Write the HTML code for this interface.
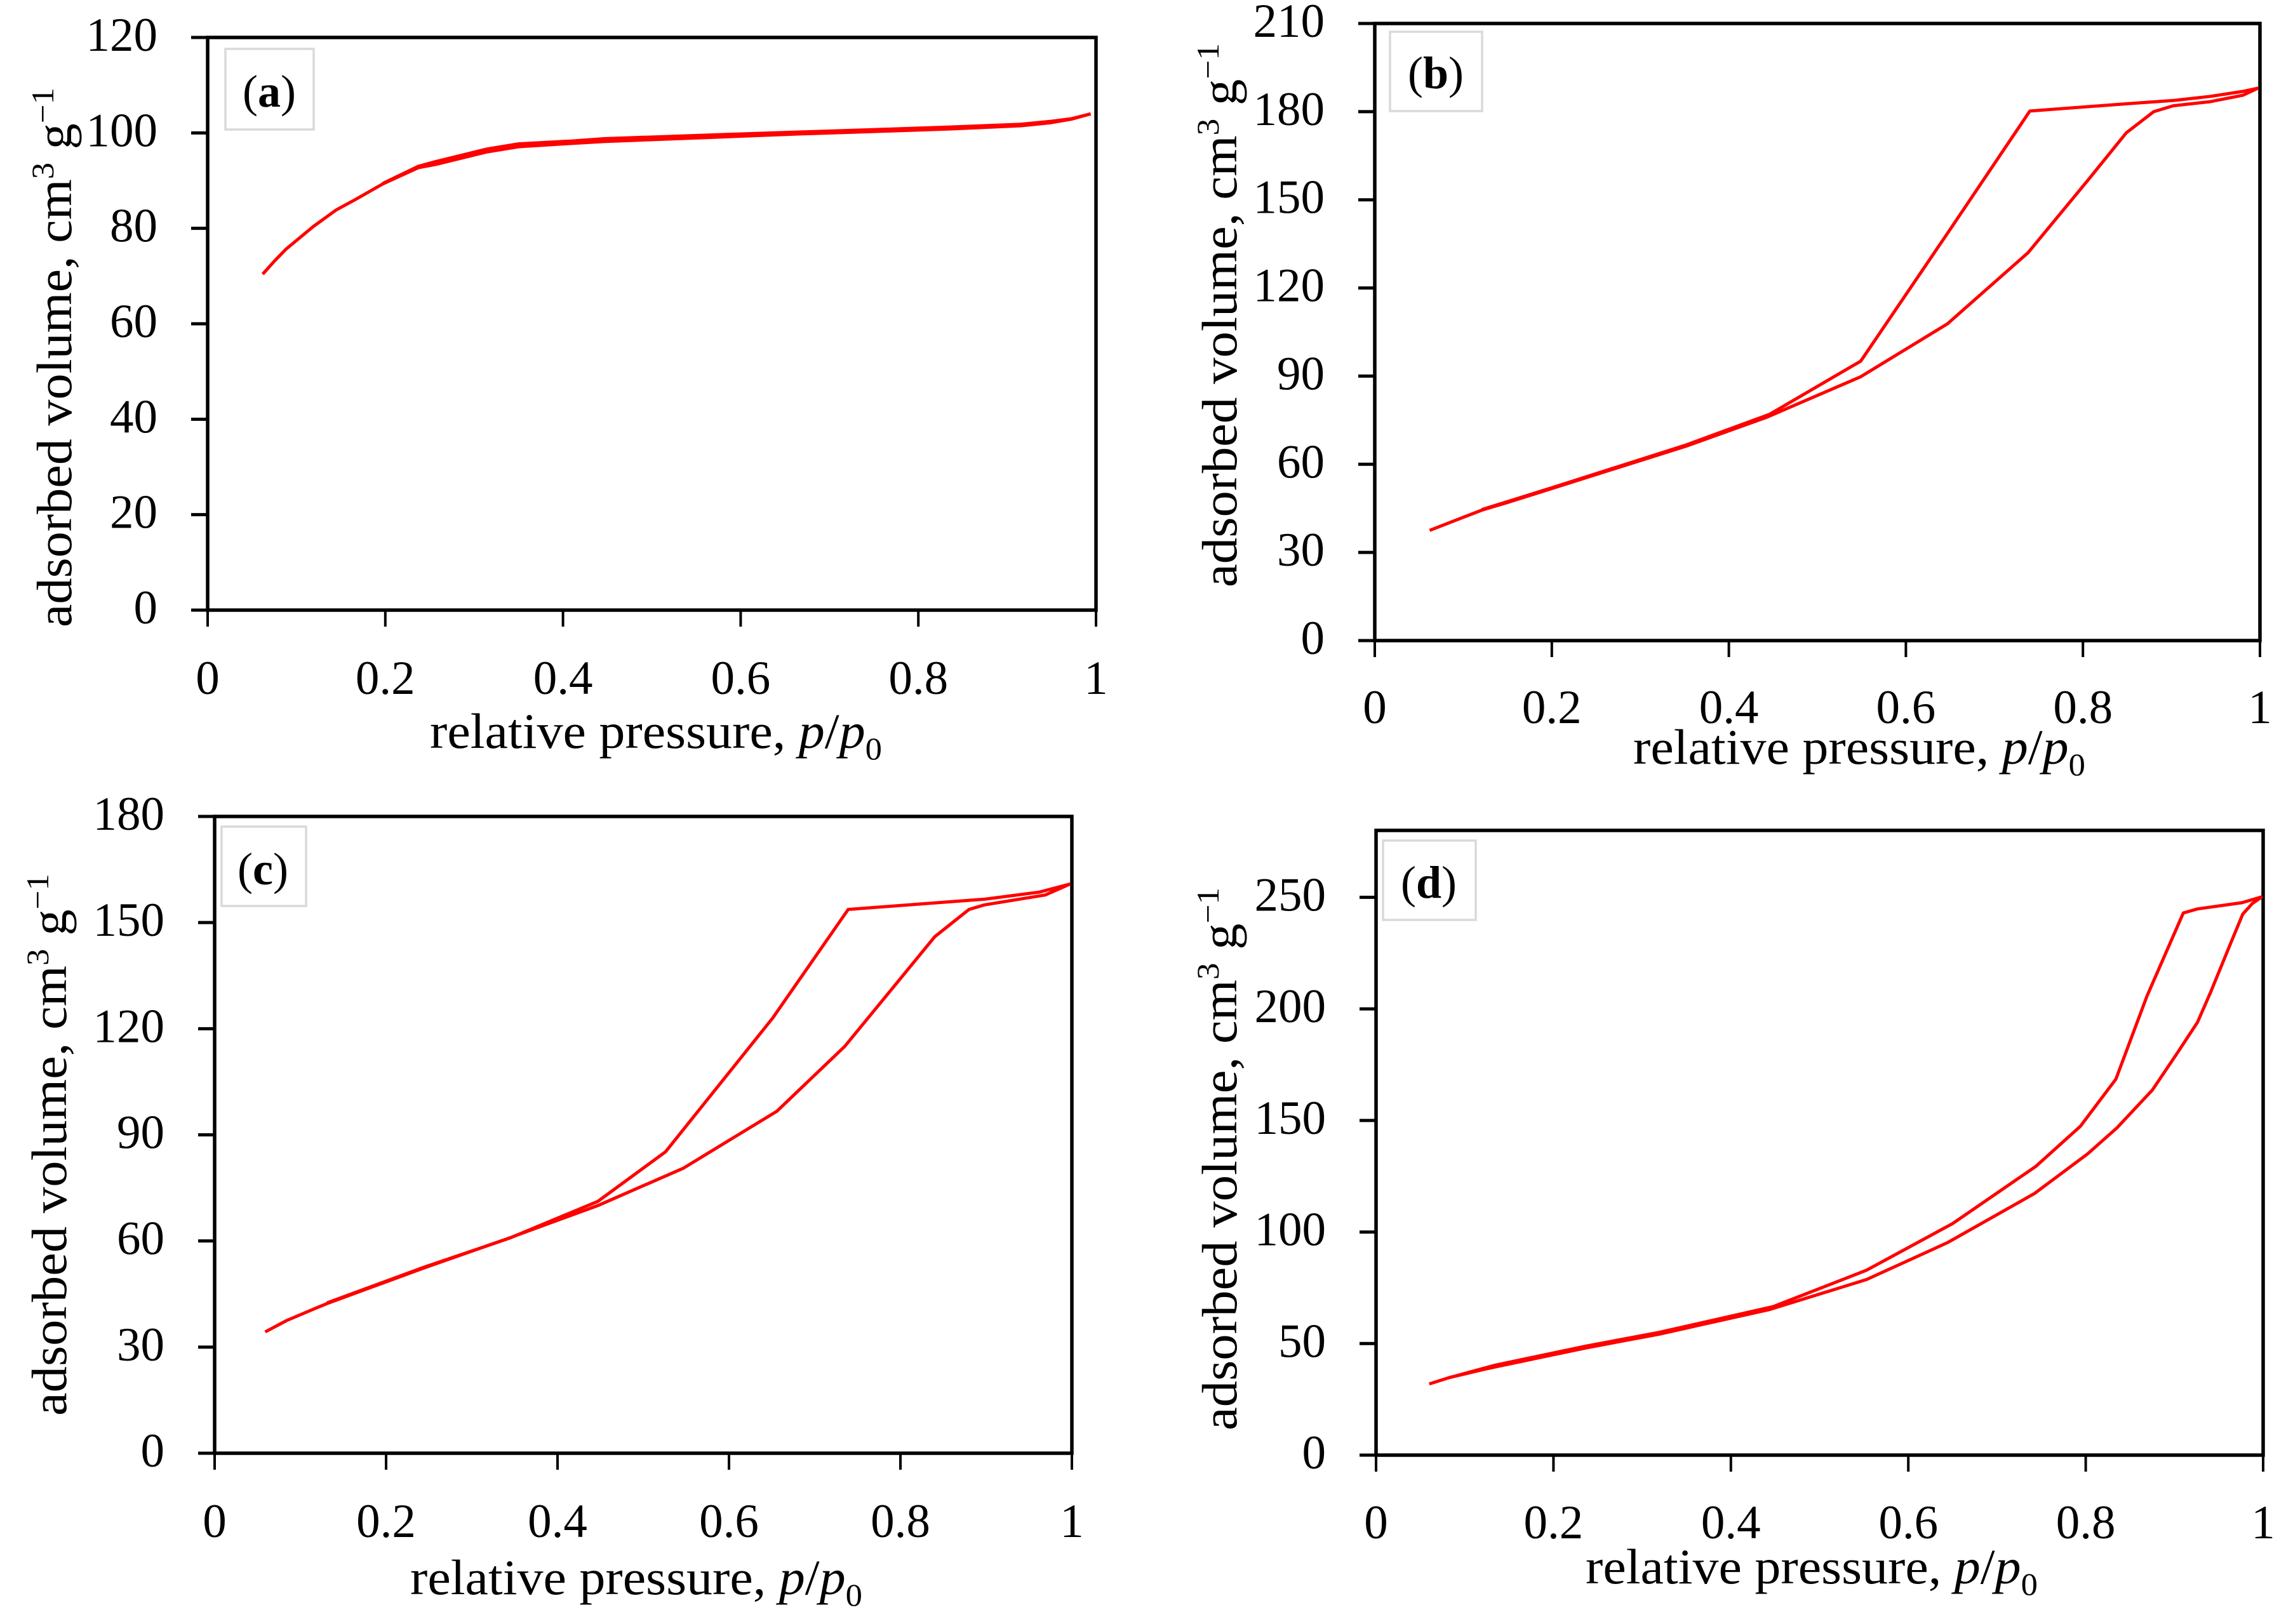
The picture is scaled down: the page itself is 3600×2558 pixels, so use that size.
<!DOCTYPE html>
<html lang="en">
<head>
<meta charset="utf-8">
<title>Nitrogen adsorption isotherms</title>
<style>
html,body{margin:0;padding:0;background:#fff;}
svg{display:block;}
text{font-family:"Liberation Serif","DejaVu Serif",serif;fill:#000;}
.tick{font-size:75px;}
.title{font-size:78px;}
.lab{font-size:72px;}
.box{fill:#fff;stroke:#d9d9d9;stroke-width:3.5;}
.frame{fill:none;stroke:#000;stroke-width:5.5;}
</style>
</head>
<body>
<svg id="figure" xmlns="http://www.w3.org/2000/svg" width="3600" height="2558" viewBox="0 0 3600 2558">
<rect x="0" y="0" width="3600" height="2558" fill="#fff"/>

<g id="panel-a">
  <rect class="box" x="355" y="77" width="139" height="127"/>
  <text class="lab" x="424" y="168" text-anchor="middle">(<tspan font-weight="bold">a</tspan>)</text>
  <text class="title" data-fit="850" data-rot="1" data-x="112" data-y="988">adsorbed volume, cm<tspan dy="-28" font-size="50">3</tspan><tspan dy="28"> g</tspan><tspan dy="-28" font-size="50">−1</tspan></text>
  <text class="title" data-fit="712" data-x="677" data-y="1178">relative pressure, <tspan font-style="italic">p</tspan>/<tspan font-style="italic">p</tspan><tspan dy="18" font-size="50">0</tspan></text>
</g>

<g id="panel-b">
  <rect class="box" x="2189" y="50" width="145" height="125"/>
  <text class="lab" x="2261" y="139" text-anchor="middle">(<tspan font-weight="bold">b</tspan>)</text>
  <text class="title" data-fit="857" data-rot="1" data-x="1947" data-y="925">adsorbed volume, cm<tspan dy="-28" font-size="50">3</tspan><tspan dy="28"> g</tspan><tspan dy="-28" font-size="50">−1</tspan></text>
  <text class="title" data-fit="712" data-x="2572" data-y="1203">relative pressure, <tspan font-style="italic">p</tspan>/<tspan font-style="italic">p</tspan><tspan dy="18" font-size="50">0</tspan></text>
</g>

<g id="panel-c">
  <rect class="box" x="349" y="1302" width="133" height="125"/>
  <text class="lab" x="414" y="1393" text-anchor="middle">(<tspan font-weight="bold">c</tspan>)</text>
  <text class="title" data-fit="854" data-rot="1" data-x="104" data-y="2230">adsorbed volume, cm<tspan dy="-28" font-size="50">3</tspan><tspan dy="28"> g</tspan><tspan dy="-28" font-size="50">−1</tspan></text>
  <text class="title" data-fit="712" data-x="646" data-y="2511">relative pressure, <tspan font-style="italic">p</tspan>/<tspan font-style="italic">p</tspan><tspan dy="18" font-size="50">0</tspan></text>
</g>

<g id="panel-d">
  <rect class="box" x="2178" y="1324" width="146" height="125"/>
  <text class="lab" x="2250" y="1414" text-anchor="middle">(<tspan font-weight="bold">d</tspan>)</text>
  <text class="title" data-fit="855" data-rot="1" data-x="1947" data-y="2253">adsorbed volume, cm<tspan dy="-28" font-size="50">3</tspan><tspan dy="28"> g</tspan><tspan dy="-28" font-size="50">−1</tspan></text>
  <text class="title" data-fit="712" data-x="2497" data-y="2494">relative pressure, <tspan font-style="italic">p</tspan>/<tspan font-style="italic">p</tspan><tspan dy="18" font-size="50">0</tspan></text>
</g>
</svg>

<script>
// ---- chart values ----
const xTickValues = [0, 0.2, 0.4, 0.6, 0.8, 1];
const xTickLabels = ['0', '0.2', '0.4', '0.6', '0.8', '1'];

const aYTicks = [0, 20, 40, 60, 80, 100, 120];
const aAdsP = [0.062, 0.075, 0.088, 0.119, 0.145, 0.166, 0.197, 0.237, 0.257, 0.314, 0.35, 0.41, 0.447, 0.587, 0.67, 0.751, 0.833, 0.915, 0.948, 0.973, 0.994];
const aAdsV = [70.4, 73.1, 75.6, 80.4, 83.9, 86, 89.3, 92.7, 93.4, 96, 97.1, 97.8, 98.2, 99.2, 99.8, 100.3, 100.8, 101.5, 102.1, 102.9, 104];
const aDesP = [0.994, 0.973, 0.948, 0.915, 0.833, 0.751, 0.67, 0.587, 0.447, 0.41, 0.35, 0.314, 0.257, 0.237, 0.197];
const aDesV = [104, 103, 102.4, 101.8, 101.2, 100.7, 100.2, 99.7, 98.8, 98.3, 97.7, 96.6, 94, 93, 89.4];

const bYTicks = [0, 30, 60, 90, 120, 150, 180, 210];
const bAdsP = [0.062, 0.121, 0.15, 0.352, 0.442, 0.549, 0.647, 0.738, 0.806, 0.849, 0.88, 0.902, 0.944, 0.981, 0.998];
const bAdsV = [37.5, 44.4, 47, 66.2, 75.9, 89.8, 107.8, 132, 156.8, 172.8, 180, 182, 183.4, 185.6, 188];
const bDesP = [0.998, 0.981, 0.944, 0.902, 0.85, 0.74, 0.647, 0.549, 0.446, 0.352, 0.2, 0.121];
const bDesV = [188, 186.9, 185.2, 183.8, 182.7, 180.2, 138.6, 95.1, 77, 66.6, 52, 44.6];

const cYTicks = [0, 30, 60, 90, 120, 150, 180];
const cAdsP = [0.059, 0.084, 0.117, 0.131, 0.2445, 0.341, 0.447, 0.547, 0.656, 0.735, 0.84, 0.88, 0.898, 0.969, 0.998];
const cAdsV = [34.3, 37.5, 40.9, 42.3, 52.4, 60.6, 70, 80.6, 96.7, 115, 146, 153.7, 155, 157.8, 160.9];
const cDesP = [0.998, 0.962, 0.898, 0.864, 0.739, 0.651, 0.526, 0.447, 0.345, 0.2445, 0.131];
const cDesV = [160.9, 158.6, 156.6, 156, 153.7, 123, 85.2, 71.2, 60.9, 52.6, 42.5];

const dYTicks = [0, 50, 100, 150, 200, 250];
const dAdsP = [0.06, 0.082, 0.119, 0.134, 0.237, 0.319, 0.444, 0.553, 0.644, 0.742, 0.802, 0.835, 0.875, 0.904, 0.926, 0.941, 0.964, 0.977, 0.988, 0.999];
const dAdsV = [31.9, 34.7, 38.2, 39.5, 48.1, 54.2, 65.3, 78.7, 95.2, 117.2, 135, 146.6, 163.6, 180.7, 194, 207.7, 230, 242.5, 247.3, 250.3];
const dDesP = [0.999, 0.976, 0.926, 0.91, 0.869, 0.834, 0.794, 0.744, 0.65, 0.553, 0.448, 0.319, 0.237, 0.134, 0.082];
const dDesV = [250.3, 247.6, 244.8, 243, 205.7, 168.5, 147.4, 129.5, 103.8, 82.9, 66.6, 55, 48.9, 40.3, 34.7];

// ---- drawing ----
const SVG_NS = 'http://www.w3.org/2000/svg';

function drawPanel(id, box, yMax, yTicks, adsP, adsV, desP, desV, xLabelY) {
  const parent = document.getElementById(id);
  const xScale = function (p) { return box.left + (box.right - box.left) * p; };
  const yScale = function (v) { return box.bottom - (box.bottom - box.top) * v / yMax; };

  const frame = document.createElementNS(SVG_NS, 'rect');
  
  
  frame.setAttribute('class', 'frame');
  frame.setAttribute('x', box.left);
  frame.setAttribute('y', box.top);
  frame.setAttribute('width', box.right - box.left);
  frame.setAttribute('height', box.bottom - box.top);
  parent.appendChild(frame);

  yTicks.forEach(function (v) {
    const y = yScale(v);
    const mark = document.createElementNS(SVG_NS, 'line');
    
    
    mark.setAttribute('x1', box.left - 26);
    mark.setAttribute('x2', box.left);
    mark.setAttribute('y1', y);
    mark.setAttribute('y2', y);
    mark.setAttribute('stroke', '#000');
    mark.setAttribute('stroke-width', 5);
    parent.appendChild(mark);

    const label = document.createElementNS(SVG_NS, 'text');
    
    
    label.setAttribute('class', 'tick');
    label.setAttribute('x', box.left - 79);
    label.setAttribute('y', y + 21);
    label.setAttribute('text-anchor', 'end');
    label.textContent = String(v);
    parent.appendChild(label);
  });

  xTickValues.forEach(function (p, i) {
    const x = xScale(p);
    const mark = document.createElementNS(SVG_NS, 'line');
    
    
    mark.setAttribute('x1', x);
    mark.setAttribute('x2', x);
    mark.setAttribute('y1', box.bottom);
    mark.setAttribute('y2', box.bottom + 26);
    mark.setAttribute('stroke', '#000');
    mark.setAttribute('stroke-width', 4);
    parent.appendChild(mark);

    const label = document.createElementNS(SVG_NS, 'text');
    
    
    label.setAttribute('class', 'tick');
    label.setAttribute('x', x);
    label.setAttribute('y', xLabelY);
    label.setAttribute('text-anchor', 'middle');
    label.textContent = xTickLabels[i];
    parent.appendChild(label);
  });

  const toPoints = function (ps, vs) {
    return ps.map(function (p, i) {
      return xScale(p).toFixed(1) + ',' + yScale(vs[i]).toFixed(1);
    }).join(' ');
  };

  const ads = document.createElementNS(SVG_NS, 'polyline');
  
  
  ads.setAttribute('points', toPoints(adsP, adsV));
  ads.setAttribute('fill', 'none');
  ads.setAttribute('stroke', '#ff0000');
  ads.setAttribute('stroke-width', 5);
  ads.setAttribute('stroke-linejoin', 'round');
  parent.appendChild(ads);

  const des = document.createElementNS(SVG_NS, 'polyline');
  
  
  des.setAttribute('points', toPoints(desP, desV));
  des.setAttribute('fill', 'none');
  des.setAttribute('stroke', '#ff0000');
  des.setAttribute('stroke-width', 5);
  des.setAttribute('stroke-linejoin', 'round');
  parent.appendChild(des);
}

drawPanel('panel-a', {left: 327, right: 1726, top: 59, bottom: 961}, 120, aYTicks, aAdsP, aAdsV, aDesP, aDesV, 1093);
drawPanel('panel-b', {left: 2165, right: 3559, top: 37, bottom: 1009}, 210, bYTicks, bAdsP, bAdsV, bDesP, bDesV, 1139);
drawPanel('panel-c', {left: 338, right: 1688, top: 1286, bottom: 2289}, 180, cYTicks, cAdsP, cAdsV, cDesP, cDesV, 2421);
drawPanel('panel-d', {left: 2167, right: 3564, top: 1308, bottom: 2292}, 280, dYTicks, dAdsP, dAdsV, dDesP, dDesV, 2423);

// fit the axis titles to their measured lengths
document.querySelectorAll('[data-fit]').forEach(function (t) {
  const target = parseFloat(t.getAttribute('data-fit'));
  const s = target / t.getComputedTextLength();
  const x = t.getAttribute('data-x');
  const y = t.getAttribute('data-y');
  const rot = t.hasAttribute('data-rot') ? ' rotate(-90)' : '';
  t.setAttribute('transform', 'translate(' + x + ',' + y + ')' + rot + ' scale(' + s.toFixed(4) + ',1)');
});
</script>
</body>
</html>
